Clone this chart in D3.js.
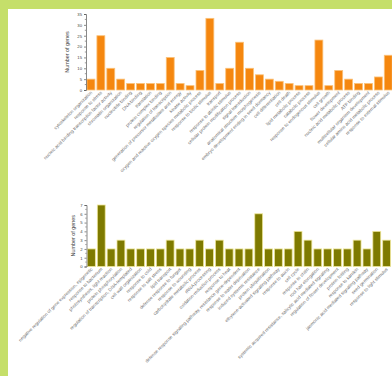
<!DOCTYPE html>
<html>
<head>
<meta charset="utf-8">
<script src="https://cdn.jsdelivr.net/npm/d3@7/dist/d3.min.js"></script>
<style>
  html, body { margin: 0; padding: 0; background: #fff; overflow: hidden; }
  svg { display: block; font-family: "Liberation Sans", Arial, sans-serif; }
</style>
</head>
<body>
<svg id="chart" width="392" height="376"></svg>
<script>
// GO categories of the up-regulated set (orange)
const upTerms = [
  "cytoskeleton organization",
  "response to stress",
  "nucleic acid binding transcription factor activity",
  "chromatin organization",
  "nucleotide binding",
  "DNA binding",
  "translation",
  "protein complex binding",
  "regulation of transcription",
  "generation of precursor metabolites and energy",
  "kinase activity",
  "oxygen and reactive oxygen species metabolic process",
  "response to biotic stimulus",
  "transport",
  "response to abiotic stimulus",
  "cellular protein modification process",
  "signal transduction",
  "anatomical structure morphogenesis",
  "embryo development ending in seed dormancy",
  "cell differentiation",
  "cell death",
  "lipid metabolic process",
  "catabolic process",
  "response to endogenous stimulus",
  "cell growth",
  "flower development",
  "nucleic acid metabolic process",
  "ATP binding",
  "multicellular organism development",
  "cellular amino acid metabolic process",
  "response to external stimulus"
];
const upCounts = [5, 25, 10, 5, 3, 3, 3, 3, 15, 3, 2, 9, 33, 3, 10, 22, 10, 7, 5, 4, 3, 2, 2, 23, 2, 9, 5, 3, 3, 6, 16];
const upTicks = [0, 5, 10, 15, 20, 25, 30, 35];

// GO categories of the down-regulated set (olive)
const downTerms = [
  "negative regulation of gene expression, epigenetic",
  "response to bacterium",
  "photosynthesis, light reaction",
  "protein phosphorylation",
  "regulation of transcription, DNA-templated",
  "cell wall organization",
  "response to cold",
  "response to salt stress",
  "lipid transport",
  "defense response to fungus",
  "response to wounding",
  "carbohydrate metabolic process",
  "rRNA processing",
  "oxidation-reduction process",
  "response to heat",
  "defense response signaling pathway, resistance gene-dependent",
  "response to water deprivation",
  "induced systemic resistance",
  "protein ubiquitination",
  "ethylene-activated signaling pathway",
  "response to auxin",
  "cell cycle",
  "response to chitin",
  "root hair elongation",
  "systemic acquired resistance, salicylic acid mediated signaling",
  "regulation of flower development",
  "protein folding",
  "response to karrikin",
  "jasmonic acid mediated signaling pathway",
  "seed germination",
  "response to light stimulus"
];
const downCounts = [2, 7, 2, 3, 2, 2, 2, 2, 3, 2, 2, 3, 2, 3, 2, 2, 2, 6, 2, 2, 2, 4, 3, 2, 2, 2, 2, 3, 2, 4, 3];
const downTicks = [0, 1, 2, 3, 4, 5, 6, 7];

const svg = d3.select("#chart");

// frame: green border on the left and top, white panel
svg.append("rect").attr("width", 392).attr("height", 376).attr("fill", "#c5df6a");
svg.append("rect").attr("x", 8).attr("y", 9).attr("width", 384).attr("height", 367).attr("fill", "#ffffff");

function barChart(opts) {
  const g = svg.append("g");
  const x = d3.scaleBand()
    .domain(opts.terms)
    .range([opts.left, opts.left + opts.terms.length * opts.step])
    .paddingInner(0.2)
    .paddingOuter(0.1);
  const y = d3.scaleLinear()
    .domain([0, opts.max])
    .range([opts.base, opts.top]);

  // bars
  g.selectAll("rect.bar")
    .data(opts.terms.map((t, i) => ({ term: t, value: opts.values[i] })))
    .join("rect")
    .attr("class", "bar")
    .attr("x", d => x(d.term))
    .attr("y", d => y(d.value))
    .attr("width", x.bandwidth())
    .attr("height", d => y(0) - y(d.value))
    .attr("fill", opts.fill)
    .attr("stroke", opts.stroke)
    .attr("stroke-width", 0.8);

  // y axis with minor ticks
  const axisG = g.append("g").attr("transform", `translate(${opts.left},0)`);
  axisG.call(d3.axisLeft(y).tickValues(opts.ticks).tickFormat(d3.format("d")).tickSize(2).tickPadding(2));
  const minor = d3.range(0, opts.max, opts.minorStep).filter(v => !opts.ticks.includes(v));
  axisG.selectAll("line.minor")
    .data(minor)
    .join("line")
    .attr("class", "minor")
    .attr("x1", -1.2).attr("x2", 0)
    .attr("y1", d => y(d)).attr("y2", d => y(d))
    .attr("stroke", "#555").attr("stroke-width", 0.6);
  axisG.select(".domain").attr("stroke", "#555").attr("stroke-width", 0.7);
  axisG.selectAll(".tick line").attr("stroke", "#555").attr("stroke-width", 0.7);
  axisG.selectAll(".tick text").attr("font-size", 4.2).attr("fill", "#444");

  // axis title
  g.append("text")
    .attr("transform", `translate(${opts.titleX},${(opts.base + opts.top) / 2}) rotate(-90)`)
    .attr("text-anchor", "middle")
    .attr("font-size", 5.4)
    .attr("fill", "#444")
    .text("Number of genes");

  // category labels, slanted
  g.selectAll("text.cat")
    .data(opts.terms)
    .join("text")
    .attr("class", "cat")
    .attr("transform", d => `translate(${x(d) + x.bandwidth() / 2 + 1.5},${opts.base + 3}) rotate(-45)`)
    .attr("text-anchor", "end")
    .attr("font-size", 4.6)
    .attr("fill", "#6f6f6f")
    .text(d => d);
}

barChart({
  terms: upTerms, values: upCounts, ticks: upTicks, max: 35, minorStep: 2.5,
  left: 86, step: 9.91, base: 90, top: 14, titleX: 69,
  fill: "#f5870f", stroke: "#fbc27a"
});

barChart({
  terms: downTerms, values: downCounts, ticks: downTicks, max: 7, minorStep: 0.5,
  left: 86.5, step: 9.84, base: 266.5, top: 205, titleX: 75,
  fill: "#7e7a00", stroke: "#efe79a"
});
</script>
</body>
</html>
